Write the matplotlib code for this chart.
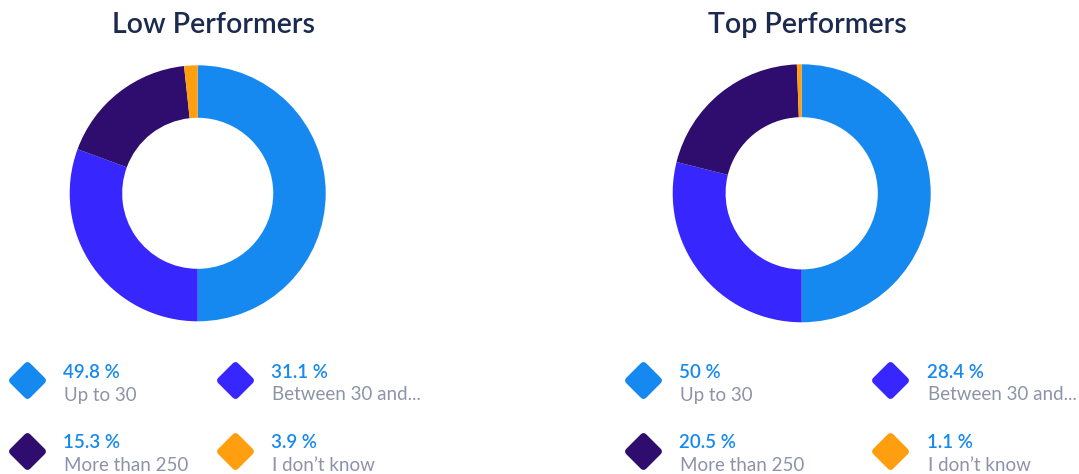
import matplotlib
matplotlib.use("Agg")
import matplotlib.pyplot as plt
from matplotlib.markers import MarkerStyle

plt.rcParams['font.family'] = ['Lato', 'DejaVu Sans']

titles = ["Low Performers", "Top Performers"]
categories = ["Up to 30", "Between 30 and...", "More than 250", "I don\u2019t know"]
colors = ["#1589f0", "#3726fe", "#2e0d6e", "#ff9f10"]

# percentages printed in the legends
low_labels = [49.8, 31.1, 15.3, 3.9]
top_labels = [50, 28.4, 20.5, 1.1]
# wedge shares as drawn in the donuts
low_shares = [50.0, 30.6, 17.7, 1.7]
top_shares = [50.0, 28.9, 20.5, 0.6]

W, H = 1079, 474
fig = plt.figure(figsize=(W / 100, H / 100), dpi=100)

# overlay axes in pixel coordinates for titles and legends
over = fig.add_axes([0, 0, 1, 1])
over.set_xlim(0, W)
over.set_ylim(H, 0)
over.axis('off')

panels = [
    dict(title=titles[0], tx=213, cx=197.7, cy=193.3, r=128,
         shares=low_shares, labels=low_labels, cols=[27, 235], tcols=[63, 271]),
    dict(title=titles[1], tx=807, cx=801.7, cy=193.3, r=129,
         shares=top_shares, labels=top_labels, cols=[643, 890], tcols=[679, 927]),
]
rows = [380, 450.5]

diamond = MarkerStyle('D', joinstyle='round')

for p in panels:
    r = p['r']
    ax = fig.add_axes([(p['cx'] - r) / W, (H - p['cy'] - r) / H, 2 * r / W, 2 * r / H])
    ax.pie(p['shares'], colors=colors, startangle=90, counterclock=False,
           radius=1, wedgeprops=dict(width=0.41, linewidth=0))
    ax.set_xlim(-1, 1)
    ax.set_ylim(-1, 1)
    ax.set_aspect('equal')
    ax.axis('off')

    over.text(p['tx'], 33, p['title'], ha='center', va='baseline',
              fontsize=20.5, fontweight='semibold', color='#1b2a4e')

    for i, (cat, val) in enumerate(zip(categories, p['labels'])):
        row, col = divmod(i, 2)
        y = rows[row]
        over.plot(p['cols'][col], y, marker=diamond, ms=15, mew=5,
                  color=colors[i], mec=colors[i], linestyle='none')
        over.text(p['tcols'][col], y - 2, f"{val:g} %", ha='left', va='baseline',
                  fontsize=13.5, fontweight='semibold', color='#1589f0')
        over.text(p['tcols'][col] + 1, y + 20.5, cat, ha='left', va='baseline',
                  fontsize=13.5, color='#8d93a8')

fig.savefig("out.png", dpi=100)
